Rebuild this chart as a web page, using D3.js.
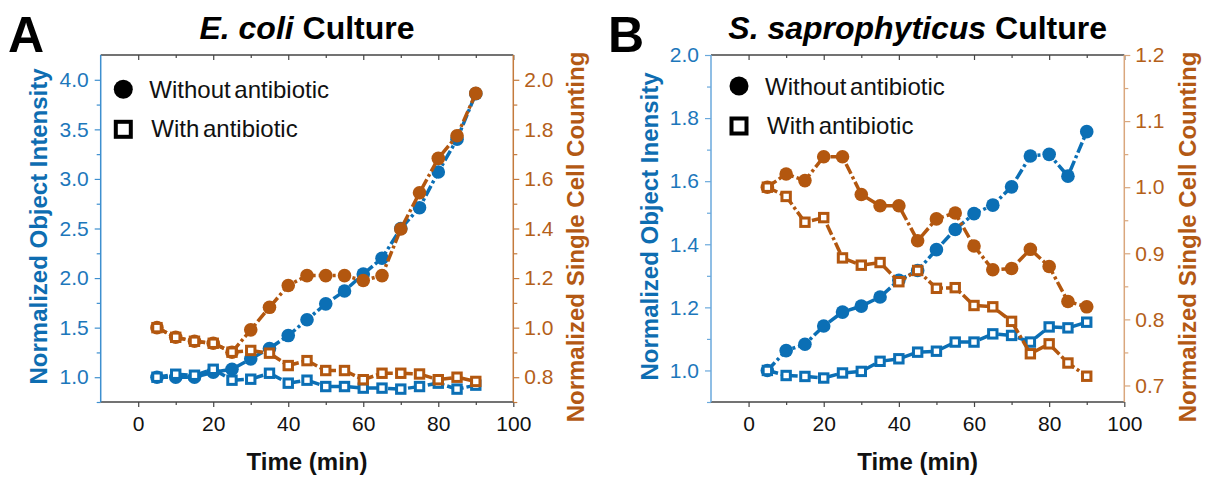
<!DOCTYPE html>
<html><head><meta charset="utf-8">
<script src="https://cdn.jsdelivr.net/npm/d3@7"></script>
<style>
body{margin:0;background:#fff;}
svg text{font-family:"Liberation Sans",Arial,sans-serif;}
</style></head><body>
<svg id="chart" width="1206" height="477"></svg>
<script>
// ---------------- data ----------------
const time = [5,10,15,20,25,30,35,40,45,50,55,60,65,70,75,80,85,90];

const ecoliIntensityWithout = [1.00,1.00,1.00,1.05,1.08,1.185,1.29,1.42,1.58,1.74,1.87,2.04,2.20,2.50,2.71,3.07,3.40,3.86];
const ecoliIntensityWith    = [1.00,1.03,1.02,1.08,0.97,0.98,1.04,0.94,0.97,0.906,0.906,0.89,0.89,0.88,0.906,0.94,0.88,0.92];
const ecoliCountWithout     = [1.00,0.961,0.945,0.937,0.901,0.991,1.082,1.170,1.210,1.210,1.210,1.190,1.210,1.398,1.544,1.683,1.774,1.945];
const ecoliCountWith        = [1.00,0.961,0.945,0.937,0.901,0.908,0.897,0.847,0.867,0.827,0.827,0.790,0.816,0.816,0.813,0.790,0.800,0.783];

const saproIntensityWithout = [1.000,1.063,1.083,1.141,1.185,1.204,1.233,1.286,1.317,1.383,1.447,1.497,1.524,1.582,1.680,1.685,1.616,1.757];
const saproIntensityWith    = [1.000,0.984,0.981,0.976,0.992,0.997,1.029,1.037,1.058,1.061,1.090,1.090,1.116,1.111,1.090,1.138,1.135,1.153];
const saproCountWithout     = [1.000,1.020,1.010,1.046,1.046,0.989,0.972,0.972,0.919,0.952,0.961,0.911,0.875,0.877,0.906,0.880,0.827,0.819];
const saproCountWith        = [1.000,0.986,0.947,0.954,0.893,0.882,0.886,0.857,0.874,0.847,0.848,0.821,0.819,0.797,0.748,0.763,0.734,0.714];

const xTicks = [0,20,40,60,80,100];
const xMinorTicks = [10,30,50,70,90];
const ecoliLeftTicks  = [1.0,1.5,2.0,2.5,3.0,3.5,4.0];
const ecoliLeftMinor  = [0.75,1.25,1.75,2.25,2.75,3.25,3.75];
const ecoliRightTicks = [0.8,1.0,1.2,1.4,1.6,1.8,2.0];
const ecoliRightMinor = [0.7,0.9,1.1,1.3,1.5,1.7,1.9];
const saproLeftTicks  = [1.0,1.2,1.4,1.6,1.8,2.0];
const saproLeftMinor  = [0.9,1.1,1.3,1.5,1.7,1.9];
const saproRightTicks = [0.7,0.8,0.9,1.0,1.1,1.2];
const saproRightMinor = [0.75,0.85,0.95,1.05,1.15];

const legendLabels = ["Without antibiotic","With antibiotic"];

// ---------------- style ----------------
const BLUE = "#0b6fb5", ORANGE = "#b3570f";
const BLUE_TXT = "#1d77bb", ORANGE_TXT = "#b4601a";
const BLUE_TITLE = "#0e6db1", ORANGE_TITLE = "#b35914";
const FRAME = "#444";

const svg = d3.select("#chart");
const TOP = 55, BOTTOM = 402;

function panel(cfg){
  const g = svg.append("g");
  const x  = d3.scaleLinear().domain([-10,100]).range([cfg.left, cfg.right]);
  const yL = d3.scaleLinear().domain(cfg.leftDomain).range([BOTTOM, TOP]);
  const yR = d3.scaleLinear().domain(cfg.rightDomain).range([BOTTOM, TOP]);

  const styleAxis = (sel, col, txtCol) => {
    sel.select(".domain").remove();
    sel.selectAll(".tick line").attr("stroke", col).attr("stroke-width", 1.2);
    sel.selectAll(".tick text").attr("fill", txtCol).style("font-size","21px");
  };

  // bottom axis
  g.append("g").attr("transform",`translate(0,${BOTTOM})`)
    .call(d3.axisBottom(x).tickValues(xTicks).tickSize(5).tickPadding(9).tickFormat(d3.format("d")))
    .call(s=>styleAxis(s, FRAME, "#111"));
  g.append("g").attr("transform",`translate(0,${BOTTOM})`)
    .call(d3.axisBottom(x).tickValues(xMinorTicks).tickSize(3).tickFormat(""))
    .call(s=>styleAxis(s, FRAME, "#111"));
  // top axis (inward ticks)
  g.append("g").attr("transform",`translate(0,${TOP})`)
    .call(d3.axisBottom(x).tickValues(xTicks).tickSize(5).tickFormat(""))
    .call(s=>styleAxis(s, FRAME, "#111"));
  g.append("g").attr("transform",`translate(0,${TOP})`)
    .call(d3.axisBottom(x).tickValues(xMinorTicks).tickSize(3).tickFormat(""))
    .call(s=>styleAxis(s, FRAME, "#111"));

  // left axis
  g.append("g").attr("transform",`translate(${cfg.left},0)`)
    .call(d3.axisLeft(yL).tickValues(cfg.leftTicks).tickSize(6).tickPadding(6).tickFormat(d3.format(".1f")))
    .call(s=>styleAxis(s, cfg.leftAxisCol, BLUE_TXT));
  g.append("g").attr("transform",`translate(${cfg.left},0)`)
    .call(d3.axisLeft(yL).tickValues(cfg.leftMinor).tickSize(4).tickFormat(""))
    .call(s=>styleAxis(s, cfg.leftAxisCol, BLUE_TXT));
  // right axis
  g.append("g").attr("transform",`translate(${cfg.right},0)`)
    .call(d3.axisRight(yR).tickValues(cfg.rightTicks).tickSize(6).tickPadding(5).tickFormat(d3.format(".1f")))
    .call(s=>styleAxis(s, cfg.rightAxisCol, ORANGE_TXT));
  g.append("g").attr("transform",`translate(${cfg.right},0)`)
    .call(d3.axisRight(yR).tickValues(cfg.rightMinor).tickSize(4).tickFormat(""))
    .call(s=>styleAxis(s, cfg.rightAxisCol, ORANGE_TXT));

  // frame
  g.append("line").attr("x1",cfg.left).attr("x2",cfg.right).attr("y1",TOP).attr("y2",TOP).attr("stroke",FRAME).attr("stroke-width",1.3);
  g.append("line").attr("x1",cfg.left).attr("x2",cfg.right).attr("y1",BOTTOM).attr("y2",BOTTOM).attr("stroke",FRAME).attr("stroke-width",1.3);
  g.append("line").attr("x1",cfg.left).attr("x2",cfg.left).attr("y1",TOP).attr("y2",BOTTOM).attr("stroke",cfg.leftAxisCol).attr("stroke-width",1.5);
  g.append("line").attr("x1",cfg.right).attr("x2",cfg.right).attr("y1",TOP).attr("y2",BOTTOM).attr("stroke",cfg.rightAxisCol).attr("stroke-width",1.5);

  // series
  const series = [
    {vals: cfg.intWithout, y: yL, col: BLUE, shape: "circle"},
    {vals: cfg.intWith,    y: yL, col: BLUE, shape: "square"},
    {vals: cfg.cntWithout, y: yR, col: ORANGE, shape: "circle"},
    {vals: cfg.cntWith,    y: yR, col: ORANGE, shape: "square"}
  ];
  series.forEach(s=>{
    const pts = time.map((t,i)=>[t, s.vals[i]]);
    const line = d3.line().x(d=>x(d[0])).y(d=>s.y(d[1]));
    g.append("path").datum(pts).attr("d", line).attr("fill","none")
      .attr("stroke", s.col).attr("stroke-width", 3.5)
      .attr("stroke-dasharray", "11,3,3,3");
    if (s.shape === "circle"){
      g.selectAll(null).data(pts).enter().append("circle")
        .attr("cx", d=>x(d[0])).attr("cy", d=>s.y(d[1])).attr("r", 6.8)
        .attr("fill", s.col);
    } else {
      g.selectAll(null).data(pts).enter().append("rect")
        .attr("x", d=>x(d[0])-4.2).attr("y", d=>s.y(d[1])-4.2)
        .attr("width", 8.4).attr("height", 8.4)
        .attr("fill", "#fff").attr("stroke", s.col).attr("stroke-width", 3);
    }
  });

  // legend
  const lg = g.append("g");
  lg.append("circle").attr("cx", cfg.legX).attr("cy", cfg.legY).attr("r", 9.5).attr("fill","#000");
  lg.append("rect").attr("x", cfg.legX-7.5).attr("y", cfg.legY+40-7.5).attr("width",15).attr("height",15)
    .attr("fill","#fff").attr("stroke","#000").attr("stroke-width",4);
  lg.append("text").attr("x", cfg.legX+26).attr("y", cfg.legY+9).text(legendLabels[0])
    .style("font-size","24px").attr("fill","#111").style("word-spacing","-3px");
  lg.append("text").attr("x", cfg.legX+28).attr("y", cfg.legY+48).text(legendLabels[1])
    .style("font-size","24px").attr("fill","#111").style("word-spacing","-3px");

  // axis titles
  g.append("text").attr("transform",`translate(${cfg.leftTitleX},${cfg.leftTitleY}) rotate(-90)`)
    .attr("text-anchor","middle").attr("dominant-baseline","central")
    .style("font-size","24px").style("font-weight","bold").attr("fill",BLUE_TITLE).text(cfg.leftTitle);
  g.append("text").attr("transform",`translate(${cfg.rightTitleX},237) rotate(-90)`)
    .attr("text-anchor","middle").attr("dominant-baseline","central")
    .style("font-size","24px").style("font-weight","bold").attr("fill",ORANGE_TITLE).text("Normalized Single Cell Counting");
  g.append("text").attr("x",(cfg.left+cfg.right)/2).attr("y",470).attr("text-anchor","middle")
    .style("font-size","24px").style("font-weight","bold").attr("fill","#111").text("Time (min)");

  // chart title
  const t = g.append("text").attr("x",(cfg.left+cfg.right)/2).attr("y",38.5).attr("text-anchor","middle")
    .style("font-size","32px").style("font-weight","bold").attr("fill","#000");
  t.append("tspan").style("font-style","italic").text(cfg.titleItalic);
  t.append("tspan").text(cfg.titleRest);
  // panel letter
  g.append("text").attr("x",cfg.letterX).attr("y",52).style("font-size","50px").style("font-weight","bold")
    .attr("fill","#000").text(cfg.letter);
}

panel({
  left:100.7, right:513.3, leftDomain:[0.75,4.25], rightDomain:[0.7,2.1],
  leftTicks:ecoliLeftTicks, leftMinor:ecoliLeftMinor, rightTicks:ecoliRightTicks, rightMinor:ecoliRightMinor,
  intWithout:ecoliIntensityWithout, intWith:ecoliIntensityWith, cntWithout:ecoliCountWithout, cntWith:ecoliCountWith,
  leftAxisCol:"#3d8fcf", rightAxisCol:"#c47a3c",
  legX:123.3, legY:89.3,
  leftTitle:"Normalized Object Intensity", leftTitleX:38, leftTitleY:226.5, rightTitleX:575,
  titleItalic:"E. coli", titleRest:" Culture", letter:"A", letterX:8
});
panel({
  left:711, right:1124.3, leftDomain:[0.9,2.0], rightDomain:[0.675,1.2],
  leftTicks:saproLeftTicks, leftMinor:saproLeftMinor, rightTicks:saproRightTicks, rightMinor:saproRightMinor,
  intWithout:saproIntensityWithout, intWith:saproIntensityWith, cntWithout:saproCountWithout, cntWith:saproCountWith,
  leftAxisCol:"#6aa9dc", rightAxisCol:"#d9a77d",
  legX:739, legY:86,
  leftTitle:"Normalized Object Inensity", leftTitleX:649, leftTitleY:226.5, rightTitleX:1187,
  titleItalic:"S. saprophyticus", titleRest:"  Culture", letter:"B", letterX:608
});
</script>
</body></html>
